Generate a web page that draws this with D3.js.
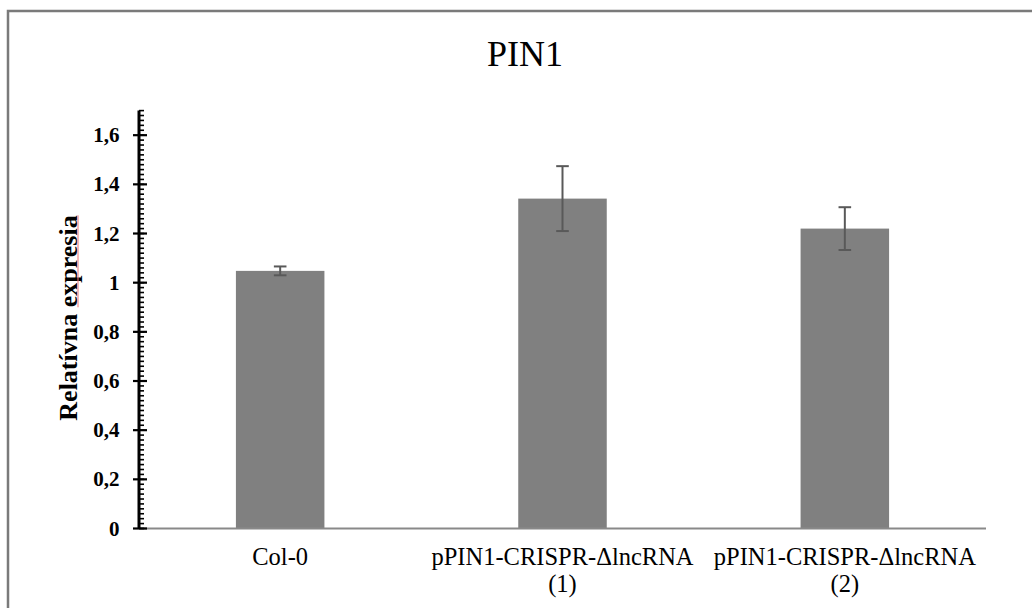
<!DOCTYPE html>
<html>
<head>
<meta charset="utf-8">
<script src="https://cdn.jsdelivr.net/npm/d3@7"></script>
<style>
  html, body { margin: 0; padding: 0; background: #fff; }
  svg { display: block; }
  text { font-family: "Liberation Serif", "Times New Roman", serif; }
</style>
</head>
<body>
<svg id="chart" width="1032" height="608"></svg>
<script>
// ---- data ----
const categories = ["Col-0", "pPIN1-CRISPR-\u0394lncRNA\n(1)", "pPIN1-CRISPR-\u0394lncRNA\n(2)"];
const values = [1.048, 1.342, 1.220];
const errors = [0.018, 0.132, 0.087];
const yTicks = [0, 0.2, 0.4, 0.6, 0.8, 1, 1.2, 1.4, 1.6];
const yTickLabels = ["0", "0,2", "0,4", "0,6", "0,8", "1", "1,2", "1,4", "1,6"];
const title = "PIN1";
const yLabel = ["Relatívna ", "expresia"];

// ---- layout ----
const svg = d3.select("#chart");
const plot = { left: 139, right: 986, top: 110.6, bottom: 528.5 };

// outer border
svg.append("path")
  .attr("d", `M8,640 L8,11 L1040,11`)
  .attr("fill", "none").attr("stroke", "#7a7a7a").attr("stroke-width", 2.5);

const x = d3.scaleBand().domain(categories)
  .range([plot.left, plot.right]).paddingInner(0.6865).paddingOuter(0.6865 / 2);
const y = d3.scaleLinear().domain([0, 1.7]).range([plot.bottom, plot.top]);

// title
svg.append("text").attr("x", 525).attr("y", 65.5)
  .attr("text-anchor", "middle").attr("font-size", 36).attr("fill", "#000")
  .text(title);

// bars
svg.append("g").selectAll("rect").data(categories).join("rect")
  .attr("x", d => x(d)).attr("width", x.bandwidth())
  .attr("y", (d, i) => y(values[i]))
  .attr("height", (d, i) => y(0) - y(values[i]))
  .attr("fill", "#808080");

// error bars
const eb = svg.append("g").attr("stroke", "#595959").attr("stroke-width", 2);
categories.forEach((c, i) => {
  const cx = x(c) + x.bandwidth() / 2;
  const hi = y(values[i] + errors[i]), lo = y(values[i] - errors[i]);
  eb.append("line").attr("x1", cx).attr("x2", cx).attr("y1", hi).attr("y2", lo);
  eb.append("line").attr("x1", cx - 6.3).attr("x2", cx + 6.3).attr("y1", hi).attr("y2", hi);
  eb.append("line").attr("x1", cx - 6.3).attr("x2", cx + 6.3).attr("y1", lo).attr("y2", lo);
});

// x axis line
svg.append("line")
  .attr("x1", plot.left).attr("x2", plot.right)
  .attr("y1", y(0)).attr("y2", y(0))
  .attr("stroke", "#898989").attr("stroke-width", 2);

// x labels
const xl = svg.append("g");
categories.forEach(c => {
  const cx = x(c) + x.bandwidth() / 2;
  const lines = c.split("\n");
  const t = xl.append("text").attr("text-anchor", "middle").attr("font-size", 24.5).attr("fill", "#000");
  lines.forEach((ln, j) => {
    t.append("tspan").attr("x", cx).attr("y", 565 + j * 27).text(ln);
  });
});

// y axis
const yAxisG = svg.append("g");
// minor ticks
const minor = d3.range(0, 171, 2).map(v => v / 100);
yAxisG.selectAll("line.minor").data(minor).join("line")
  .attr("class", "minor")
  .attr("x1", plot.left).attr("x2", plot.left + 5)
  .attr("y1", d => y(d)).attr("y2", d => y(d))
  .attr("stroke", "#000").attr("stroke-width", 1.6);
// major ticks
yAxisG.selectAll("line.major").data(yTicks).join("line")
  .attr("class", "major")
  .attr("x1", plot.left - 6).attr("x2", plot.left + 8)
  .attr("y1", d => y(d)).attr("y2", d => y(d))
  .attr("stroke", "#000").attr("stroke-width", 2.2);
// axis line
yAxisG.append("line")
  .attr("x1", plot.left).attr("x2", plot.left)
  .attr("y1", y(1.7)).attr("y2", y(0))
  .attr("stroke", "#000").attr("stroke-width", 3);
// tick labels
yAxisG.selectAll("text").data(yTicks).join("text")
  .attr("x", 119.5).attr("y", d => y(d))
  .attr("dy", "0.34em")
  .attr("text-anchor", "end").attr("font-size", 21).attr("font-weight", "bold")
  .attr("fill", "#000")
  .text((d, i) => yTickLabels[i]);

// y label
const yl = svg.append("text")
  .attr("transform", "translate(76.5,318) rotate(-90)")
  .attr("text-anchor", "middle").attr("font-size", 26).attr("font-weight", "bold")
  .attr("fill", "#000");
yl.append("tspan").text(yLabel[0]);
yl.append("tspan").text(yLabel[1]);
// spell-check underline under second word
const node = yl.node();
const full = node.getComputedTextLength();
const firstLen = node.getSubStringLength(0, yLabel[0].length);
const startAlong = -full / 2 + firstLen;
const endAlong = full / 2;
svg.append("line")
  .attr("x1", 78).attr("x2", 78)
  .attr("y1", 318 - startAlong).attr("y2", 318 - endAlong)
  .attr("stroke", "#f07070").attr("stroke-width", 1);
</script>
</body>
</html>
